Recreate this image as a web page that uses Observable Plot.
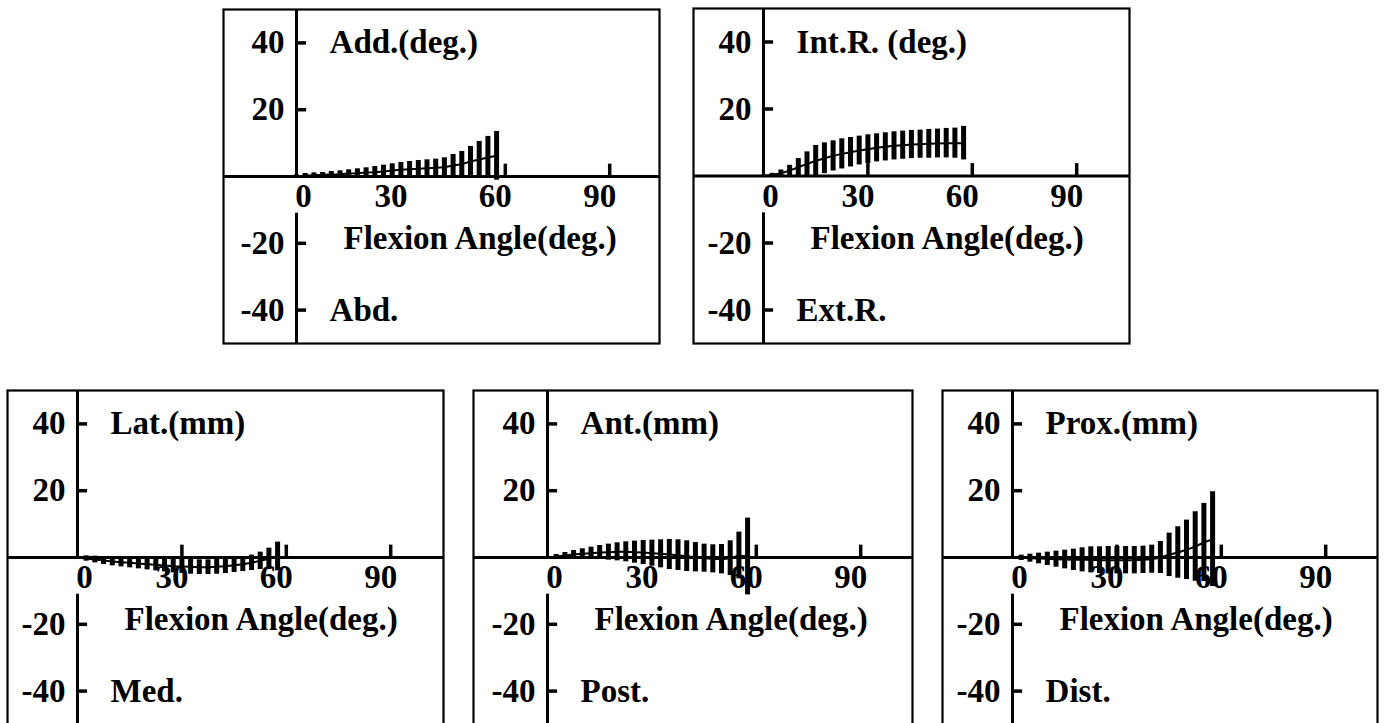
<!DOCTYPE html>
<html>
<head>
<meta charset="utf-8">
<script src="https://cdn.jsdelivr.net/npm/d3@7"></script>
<script src="https://cdn.jsdelivr.net/npm/@observablehq/plot@0.6"></script>
<style>
  html, body { margin: 0; padding: 0; background: #fff; }
  #root { position: relative; width: 1387px; height: 723px; overflow: hidden; background: #fff; }
  .panel { position: absolute; }
  .panel svg { overflow: visible; }
</style>
</head>
<body>
<div id="root"></div>
<script>
// ---- data ----
const angles = [0, 2.5, 5, 7.5, 10, 12.5, 15, 17.5, 20, 22.5, 25, 27.5, 30, 32.5, 35, 37.5, 40, 42.5, 45, 47.5, 50, 52.5, 55, 57.5];

const xTicks = [0, 30, 60, 90];
const yTicks = [40, 20, -20, -40];
const xLabel = "Flexion Angle(deg.)";

// Adduction / Abduction (deg.)
const addMean = [0, 0.3, 0.4, 0.5, 0.6, 0.7, 0.9, 1.0, 1.2, 1.3, 1.5, 1.8, 2.0, 2.2, 2.3, 2.5, 2.6, 2.8, 3.3, 3.7, 4.5, 5.1, 5.7, 6.2];
const addSd   = [0.5, 0.6, 0.7, 0.7, 0.9, 1.0, 1.1, 1.3, 1.4, 1.7, 1.9, 2.0, 2.2, 2.3, 2.5, 2.5, 2.6, 2.8, 3.3, 3.8, 4.5, 5.4, 6.3, 7.3];

// Internal / External rotation (deg.)
const rotMean = [0, 0.3, 0.8, 1.6, 2.6, 3.6, 4.5, 5.3, 6.0, 6.6, 7.1, 7.6, 8.0, 8.4, 8.7, 9.0, 9.2, 9.4, 9.5, 9.6, 9.7, 9.8, 9.8, 9.8];
const rotSd   = [0.3, 0.5, 1.0, 1.6, 2.6, 3.6, 4.6, 4.6, 4.5, 4.5, 4.4, 4.3, 4.3, 4.2, 4.2, 4.2, 4.2, 4.2, 4.2, 4.3, 4.3, 4.4, 4.5, 5.0];

// Lateral / Medial (mm)
const latMean = [0, -0.3, -0.6, -0.9, -1.2, -1.4, -1.6, -1.8, -2.0, -2.2, -2.4, -2.6, -2.7, -2.8, -2.9, -2.9, -2.8, -2.6, -2.3, -2.0, -1.6, -1.0, -0.4, 0.3];
const latSd   = [0.3, 0.8, 1.0, 1.2, 1.3, 1.4, 1.5, 1.6, 1.7, 1.8, 1.9, 2.0, 2.1, 2.2, 2.2, 2.2, 2.2, 2.2, 2.2, 2.2, 2.3, 2.6, 3.2, 4.3];

// Anterior / Posterior (mm)
const antMean = [0, 0.3, 0.6, 0.9, 1.1, 1.3, 1.5, 1.6, 1.7, 1.7, 1.6, 1.5, 1.3, 1.1, 0.9, 0.7, 0.4, 0.1, -0.2, -0.4, -0.5, -0.2, 0.6, 0.3];
const antSd   = [0.3, 0.6, 0.9, 1.2, 1.5, 1.8, 2.1, 2.4, 2.7, 3.0, 3.3, 3.6, 3.9, 4.2, 4.5, 4.6, 4.6, 4.4, 4.2, 4.2, 4.4, 5.2, 7.0, 11.5];

// Proximal / Distal (mm)
const proxMean = [0, -0.1, -0.2, -0.3, -0.4, -0.5, -0.6, -0.7, -0.7, -0.7, -0.8, -0.8, -0.8, -0.8, -0.8, -0.7, -0.5, 0, 0.8, 1.5, 2.3, 3.3, 4.5, 5.5];
const proxSd   = [0.3, 0.8, 1.2, 1.6, 2.0, 2.4, 2.8, 3.2, 3.6, 3.9, 4.0, 4.1, 4.1, 4.1, 4.1, 4.1, 4.2, 4.8, 6.5, 7.7, 8.9, 10.4, 11.7, 14.2];

const panelTitles = ["Add.(deg.)", "Int.R. (deg.)", "Lat.(mm)", "Ant.(mm)", "Prox.(mm)"];
const panelBottoms = ["Abd.", "Ext.R.", "Med.", "Post.", "Dist."];

// ---- layout (pixels) ----
const layout = [
  {left: 223, top: 9,   width: 436, height: 334, axisPx: 73},
  {left: 693, top: 8,   width: 436, height: 335, axisPx: 70},
  {left: 7,   top: 390, width: 436, height: 334, axisPx: 70},
  {left: 473, top: 390, width: 439, height: 334, axisPx: 74},
  {left: 942, top: 390, width: 435, height: 334, axisPx: 70}
];
const series = [
  [addMean, addSd], [rotMean, rotSd], [latMean, latSd], [antMean, antSd], [proxMean, proxSd]
];

const pxPerDeg = 3.48;
const font = {fontFamily: "Liberation Serif, Times New Roman, serif", fontWeight: "bold", fontSize: 33};

const root = document.getElementById("root");

series.forEach(([mean, sd], i) => {
  const L = layout[i];
  const x0 = -L.axisPx / pxPerDeg;
  const x1 = (L.width - L.axisPx) / pxPerDeg;
  const data = angles.map((a, k) => ({angle: a, mean: mean[k], sd: sd[k]}));

  const chart = Plot.plot({
    width: L.width,
    height: L.height,
    margin: 0,
    x: {domain: [x0, x1], axis: null},
    y: {domain: [-50, 50], axis: null},
    style: {background: "#fff", overflow: "visible"},
    marks: [
      Plot.frame({strokeWidth: 2.2}),
      // x axis line
      Plot.ruleY([0], {strokeWidth: 3}),
      // y axis line (with gap for tick labels)
      Plot.ruleX([0], {y1: 0, y2: 50, strokeWidth: 3}),
      Plot.ruleX([0], {y1: -11, y2: -50, strokeWidth: 3}),
      // y ticks
      Plot.ruleY(yTicks, {x1: 0, x2: 2.9, strokeWidth: 3.5}),
      Plot.text(yTicks, {x: 0, y: d => d, text: d => String(d), textAnchor: "end", dx: -12, ...font}),
      // x ticks (upward)
      Plot.ruleX(xTicks.filter(d => d !== 0), {y1: 0, y2: 3.7, strokeWidth: 3.5}),
      Plot.text(xTicks.filter(d => d === 0), {x: d => d, y: -6, text: d => String(d), dx: 7, ...font}),
      Plot.text(xTicks.filter(d => d !== 0), {x: d => d, y: -6, text: d => String(d), dx: -10, ...font}),
      // error bars (mean ± SD)
      Plot.ruleX(data, {x: "angle", y1: d => d.mean - d.sd, y2: d => d.mean + d.sd, strokeWidth: 5}),
      // mean line
      Plot.line(data, {x: "angle", y: "mean", strokeWidth: 2}),
      // labels
      Plot.text([panelTitles[i]], {x: 9.5, y: 40, text: d => d, textAnchor: "start", ...font}),
      Plot.text([panelBottoms[i]], {x: 9.5, y: -40, text: d => d, textAnchor: "start", ...font}),
      Plot.text([xLabel], {x: 13.5, y: -18.5, text: d => d, textAnchor: "start", ...font})
    ]
  });

  const div = document.createElement("div");
  div.className = "panel";
  div.style.left = L.left + "px";
  div.style.top = L.top + "px";
  div.appendChild(chart);
  root.appendChild(div);
});
</script>
</body>
</html>
